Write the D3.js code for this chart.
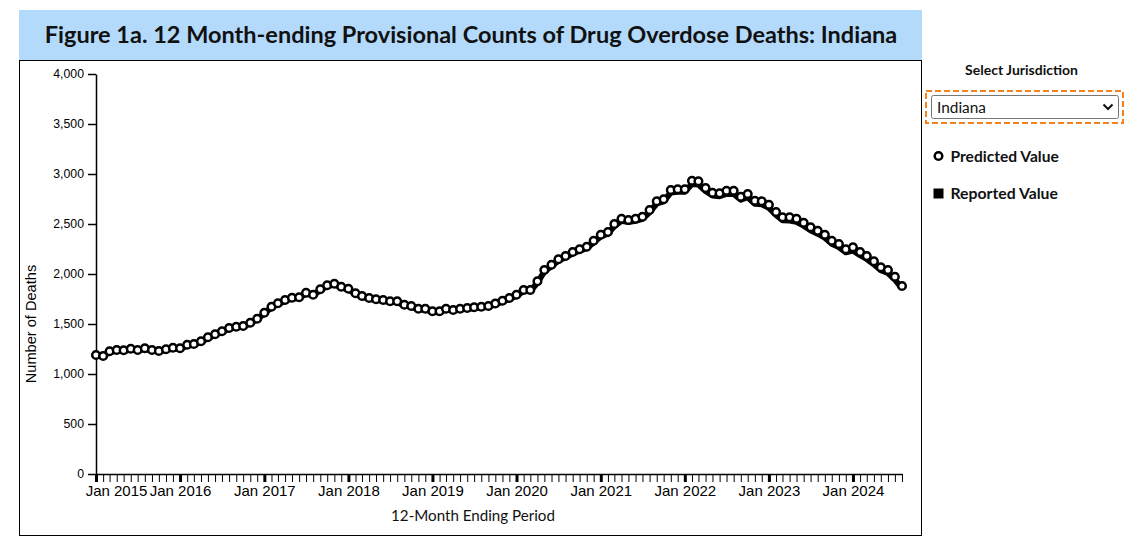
<!DOCTYPE html>
<html>
<head>
<meta charset="utf-8">
<script src="https://cdn.jsdelivr.net/npm/d3@7"></script>
<style>
body { margin: 0; background: #fff; }
.nun { font-family: Lato, "Open Sans", sans-serif; }
.axis text { font-family: "Liberation Sans", Arial, sans-serif; fill: #000; }
</style>
</head>
<body>
<script>
// months Jan 2015 .. Aug 2024
const months = d3.timeMonth.range(new Date(2015, 0, 1), new Date(2024, 8, 1));

const predicted = [
  1190, 1180, 1227, 1240, 1237, 1253, 1240, 1257, 1240, 1230, 1247, 1263,
  1257, 1293, 1300, 1327, 1367, 1397, 1427, 1460, 1473, 1480, 1513, 1553,
  1613, 1673, 1707, 1740, 1763, 1767, 1813, 1793, 1847, 1887, 1903, 1873,
  1853, 1807, 1780, 1760, 1747, 1740, 1727, 1727, 1693, 1680, 1653, 1653,
  1627, 1627, 1653, 1640, 1653, 1660, 1667, 1673, 1680, 1705, 1733, 1760,
  1793, 1840, 1840, 1927, 2040, 2093, 2147, 2180, 2220, 2247, 2273, 2333,
  2393, 2420, 2500, 2553, 2540, 2553, 2573, 2640, 2727, 2747, 2840, 2847,
  2847, 2933, 2927, 2860, 2813, 2807, 2833, 2833, 2773, 2800, 2733, 2727,
  2693, 2620, 2567, 2567, 2553, 2513, 2467, 2433, 2393, 2333, 2300, 2247,
  2267, 2220, 2180, 2127, 2067, 2040, 1973, 1880
];

const reported = [
  1185, 1175, 1220, 1232, 1230, 1245, 1235, 1250, 1235, 1225, 1240, 1255,
  1250, 1285, 1292, 1320, 1358, 1390, 1420, 1452, 1466, 1473, 1505, 1545,
  1605, 1665, 1698, 1732, 1755, 1758, 1805, 1785, 1838, 1878, 1895, 1866,
  1845, 1800, 1772, 1752, 1740, 1733, 1720, 1718, 1686, 1672, 1646, 1645,
  1620, 1618, 1645, 1632, 1645, 1652, 1658, 1665, 1672, 1695, 1722, 1750,
  1782, 1828, 1830, 1912, 2025, 2080, 2133, 2166, 2205, 2232, 2258, 2316,
  2375, 2402, 2480, 2532, 2520, 2532, 2552, 2618, 2705, 2726, 2815, 2822,
  2822, 2900, 2895, 2830, 2785, 2778, 2800, 2800, 2743, 2768, 2703, 2697,
  2662, 2590, 2537, 2535, 2522, 2483, 2437, 2403, 2363, 2303, 2270, 2217,
  2235, 2188, 2150, 2097, 2037, 2010, 1945, 1855
];

const yTicks = [0, 500, 1000, 1500, 2000, 2500, 3000, 3500, 4000];

const W = 1147, H = 544;
const svg = d3.select('body').append('svg').attr('width', W).attr('height', H);

function fit(sel, w) {
  const cur = sel.node().getComputedTextLength();
  sel.attr('font-size', parseFloat(sel.attr('font-size')) * w / cur);
}

// title banner + frame
svg.append('rect').attr('x', 19).attr('y', 10).attr('width', 903).attr('height', 50).attr('fill', '#b3dafb');
svg.append('rect').attr('x', 19.5).attr('y', 60.5).attr('width', 902).attr('height', 475)
  .attr('fill', 'none').attr('stroke', '#000').attr('stroke-width', 1);
const title = svg.append('text').attr('class', 'nun')
  .attr('x', 471).attr('y', 35).attr('dy', '0.36em').attr('text-anchor', 'middle')
  .attr('font-size', 20).attr('font-weight', 700).attr('fill', '#111')
  .text('Figure 1a. 12 Month-ending Provisional Counts of Drug Overdose Deaths: Indiana');
fit(title, 853);

const x = d3.scaleTime().domain([months[0], months[months.length - 1]]).range([96, 902]);
const y = d3.scaleLinear().domain([0, 4000]).range([474, 74]);

const gy = svg.append('g').attr('class', 'axis').attr('transform', 'translate(96,0)')
  .call(d3.axisLeft(y).tickValues(yTicks).tickFormat(d3.format(',')).tickSize(8).tickPadding(4).tickSizeOuter(0));
gy.selectAll('text').attr('font-size', 12.3);
gy.selectAll('line, path').attr('stroke', '#000').attr('stroke-width', 1.5);

const gx = svg.append('g').attr('class', 'axis').attr('transform', 'translate(0,474)')
  .call(d3.axisBottom(x).tickValues(months).tickSize(8).tickPadding(3).tickSizeOuter(0)
    .tickFormat(d => d.getMonth() === 0 ? d3.timeFormat('Jan %Y')(d) : ''));
gx.selectAll('text').attr('font-size', 15);
gx.select('.domain').attr('stroke', '#000').attr('stroke-width', 1.5);
gx.selectAll('.tick line').attr('stroke', '#000')
  .attr('stroke-width', d => d.getMonth() === 0 ? 3 : 1);
gx.selectAll('.tick text').filter(d => +d === +months[0]).attr('x', 20);

// axis titles
svg.append('text').attr('transform', 'translate(36,324) rotate(-90)')
  .attr('text-anchor', 'middle').attr('font-family', '"Liberation Sans", Arial, sans-serif')
  .attr('font-size', 14.6).text('Number of Deaths');
const xt = svg.append('text').attr('class', 'nun').attr('x', 473).attr('y', 521)
  .attr('text-anchor', 'middle').attr('font-size', 15).attr('fill', '#111')
  .text('12-Month Ending Period');
fit(xt, 164);

// reported line
const line = d3.line().x((d, i) => x(months[i])).y(d => y(d));
svg.append('path').datum(reported).attr('d', line)
  .attr('fill', 'none').attr('stroke', '#000').attr('stroke-width', 6).attr('stroke-linejoin', 'round');

// predicted points
svg.append('g').selectAll('circle').data(predicted).join('circle')
  .attr('cx', (d, i) => x(months[i])).attr('cy', d => y(d)).attr('r', 3.8)
  .attr('fill', '#fff').attr('stroke', '#000').attr('stroke-width', 2.5);

// side panel: selector + legend
const sj = svg.append('text').attr('class', 'nun').attr('x', 1021.5).attr('y', 70).attr('dy', '0.35em')
  .attr('text-anchor', 'middle').attr('font-size', 13).attr('font-weight', 700).attr('fill', '#111')
  .text('Select Jurisdiction');
fit(sj, 113);

svg.append('rect').attr('x', 926).attr('y', 91).attr('width', 197).attr('height', 32)
  .attr('fill', 'none').attr('stroke', '#f58220').attr('stroke-width', 2).attr('stroke-dasharray', '6,3');
svg.append('rect').attr('x', 931.5).attr('y', 95.5).attr('width', 187).attr('height', 23).attr('rx', 2)
  .attr('fill', '#fff').attr('stroke', '#767676').attr('stroke-width', 1);
const ind = svg.append('text').attr('class', 'nun').attr('x', 937).attr('y', 107).attr('dy', '0.36em')
  .attr('font-size', 15).attr('fill', '#111').text('Indiana');
fit(ind, 49);
svg.append('path').attr('d', 'M1103.5,104.5 L1108,109 L1112.5,104.5')
  .attr('fill', 'none').attr('stroke', '#111').attr('stroke-width', 2);

svg.append('circle').attr('cx', 938.5).attr('cy', 156).attr('r', 3.8)
  .attr('fill', '#fff').attr('stroke', '#000').attr('stroke-width', 2.5);
const lp = svg.append('text').attr('class', 'nun').attr('x', 950.5).attr('y', 156).attr('dy', '0.36em')
  .attr('font-size', 15).attr('font-weight', 700).attr('fill', '#111').text('Predicted Value');
fit(lp, 108.5);
svg.append('rect').attr('x', 933.5).attr('y', 188.5).attr('width', 10).attr('height', 10).attr('fill', '#000');
const lr = svg.append('text').attr('class', 'nun').attr('x', 950.5).attr('y', 193).attr('dy', '0.36em')
  .attr('font-size', 15).attr('font-weight', 700).attr('fill', '#111').text('Reported Value');
fit(lr, 107.5);
</script>
</body>
</html>
